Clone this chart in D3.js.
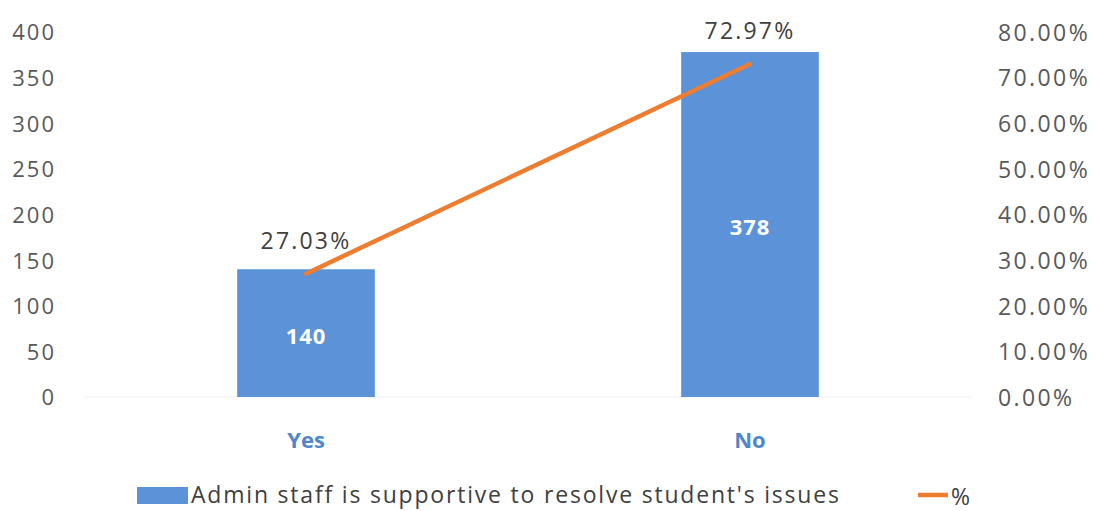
<!DOCTYPE html>
<html>
<head>
<meta charset="utf-8">
<script src="https://cdn.jsdelivr.net/npm/d3@7"></script>
<style>
  body { margin: 0; background: #fff; }
  text { font-family: "Open Sans", sans-serif; }
</style>
</head>
<body>
<div class="chart"></div>
<script>
var categories = ['Yes', 'No'];
var counts = [140, 378];
var percents = [27.03, 72.97];
var countTicks = [0, 50, 100, 150, 200, 250, 300, 350, 400];
var pctTicks = [0, 10, 20, 30, 40, 50, 60, 70, 80];
var barName = "Admin staff is supportive to resolve student's issues";
var lineName = '%';

var width = 1095, height = 511;
var plot = { left: 84, right: 972, top: 32, bottom: 397 };

var svg = d3.select('.chart').append('svg')
  .attr('width', width)
  .attr('height', height);

var x = d3.scaleBand()
  .domain(categories)
  .range([plot.left, plot.right])
  .paddingInner(0.69)
  .paddingOuter(0.345);

var y = d3.scaleLinear().domain([0, 400]).range([plot.bottom, plot.top]);
var y2 = d3.scaleLinear().domain([0, 80]).range([plot.bottom, plot.top]);

// left axis
var yAxis = d3.axisLeft(y).tickValues(countTicks).tickSize(0).tickPadding(0);
var gy = svg.append('g')
  .attr('transform', 'translate(56,0)')
  .call(yAxis);
gy.select('.domain').remove();
gy.selectAll('text')
  .style('font-size', '22px')
  .style('letter-spacing', '2px')
  .attr('fill', '#595959')
  .attr('dy', '0.36em');

// right axis
var y2Axis = d3.axisRight(y2).tickValues(pctTicks).tickSize(0).tickPadding(0)
  .tickFormat(function (d) { return d.toFixed(2) + '%'; });
var gy2 = svg.append('g')
  .attr('transform', 'translate(998,0)')
  .call(y2Axis);
gy2.select('.domain').remove();
gy2.selectAll('text')
  .style('font-size', '23px')
  .style('letter-spacing', '2.4px')
  .attr('fill', '#595959')
  .attr('dy', '0.36em');

// faint baseline
svg.append('line')
  .attr('x1', plot.left).attr('x2', plot.right)
  .attr('y1', y(0)).attr('y2', y(0))
  .attr('stroke', '#f0f0f0')
  .attr('stroke-width', 1);

// bars
svg.selectAll('.bar')
  .data(counts)
  .enter().append('rect')
  .attr('class', 'bar')
  .attr('x', function (d, i) { return x(categories[i]); })
  .attr('y', function (d) { return y(d); })
  .attr('width', x.bandwidth())
  .attr('height', function (d) { return y(0) - y(d); })
  .attr('fill', '#5b92d8');

// bar labels
svg.selectAll('.bar-label')
  .data(counts)
  .enter().append('text')
  .attr('class', 'bar-label')
  .attr('x', function (d, i) { return x(categories[i]) + x.bandwidth() / 2; })
  .attr('y', function (d) { return (y(d) + y(0)) / 2 + 3; })
  .attr('dy', '0.36em')
  .attr('text-anchor', 'middle')
  .attr('fill', '#ffffff')
  .style('font-size', '22px')
  .style('letter-spacing', '1px')
  .style('font-weight', 'bold')
  .text(function (d) { return d; });

// category labels
svg.selectAll('.cat')
  .data(categories)
  .enter().append('text')
  .attr('class', 'cat')
  .attr('x', function (d) { return x(d) + x.bandwidth() / 2; })
  .attr('y', 440)
  .attr('dy', '0.36em')
  .attr('text-anchor', 'middle')
  .attr('fill', '#4f86cc')
  .style('font-size', '22px')
  .style('font-weight', 'bold')
  .text(function (d) { return d; });

// line
var line = d3.line()
  .x(function (d, i) { return x(categories[i]) + x.bandwidth() / 2; })
  .y(function (d) { return y2(d); });

svg.append('path')
  .datum(percents)
  .attr('d', line)
  .attr('fill', 'none')
  .attr('stroke', '#ed7d31')
  .attr('stroke-width', 4.5)
  .attr('stroke-linecap', 'round');

// line labels
svg.selectAll('.pct-label')
  .data(percents)
  .enter().append('text')
  .attr('class', 'pct-label')
  .attr('x', function (d, i) { return x(categories[i]) + x.bandwidth() / 2; })
  .attr('y', function (d) { return y2(d) - 33; })
  .attr('dy', '0.36em')
  .attr('text-anchor', 'middle')
  .attr('fill', '#404040')
  .style('font-size', '23px')
  .style('letter-spacing', '2.2px')
  .text(function (d) { return d.toFixed(2) + '%'; });

// legend
var legend = svg.append('g').attr('transform', 'translate(0,495)');
legend.append('rect')
  .attr('x', 137).attr('y', -8)
  .attr('width', 51).attr('height', 17)
  .attr('fill', '#5b92d8');
legend.append('text')
  .attr('x', 191).attr('y', 0)
  .attr('dy', '0.36em')
  .attr('fill', '#404040')
  .style('font-size', '23px')
  .style('letter-spacing', '1.8px')
  .text(barName);
legend.append('line')
  .attr('x1', 918).attr('x2', 948)
  .attr('y1', 0).attr('y2', 0)
  .attr('stroke', '#ed7d31')
  .attr('stroke-width', 4.5);
legend.append('text')
  .attr('x', 951).attr('y', 2)
  .attr('dy', '0.36em')
  .attr('fill', '#404040')
  .style('font-size', '23px')
  .text(lineName);
</script>
</body>
</html>
